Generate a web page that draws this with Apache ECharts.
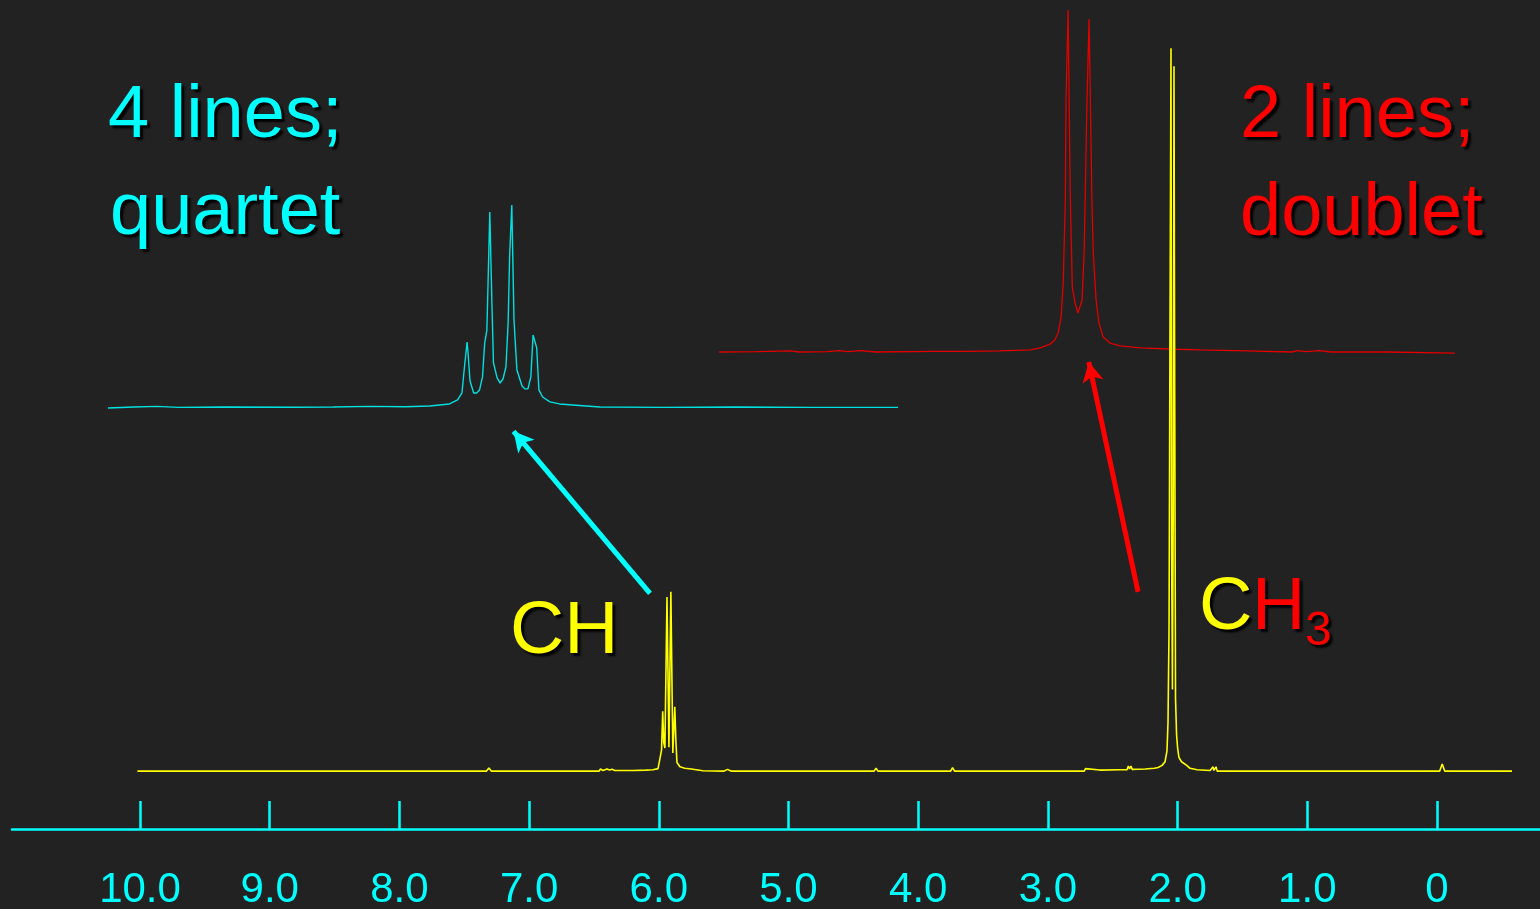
<!DOCTYPE html>
<html>
<head>
<meta charset="utf-8">
<script src="https://cdn.jsdelivr.net/npm/echarts@6/dist/echarts.min.js"></script>
<style>html,body{margin:0;padding:0;background:#222222;}#c{width:1540px;height:909px;}</style>
</head>
<body>
<div id="c"></div>
<script>
// ---- data (ppm, relative intensity) ----
var tickValues = [10, 9, 8, 7, 6, 5, 4, 3, 2, 1, 0];
var tickLabels = ['10.0', '9.0', '8.0', '7.0', '6.0', '5.0', '4.0', '3.0', '2.0', '1.0', '0'];

var mainSpectrum = [
  [10.02,0],[9.5,0],[9.0,0],[8.5,0],[8.0,0],[7.6,0],[7.33,0],[7.31,0.45],[7.29,0],[7.0,0],[6.6,0],
  [6.46,0],[6.45,0.3],[6.43,0.1],[6.40,0.3],[6.38,0.15],[6.36,0.25],[6.34,0.1],[6.2,0.1],[6.1,0.15],
  [6.045,0.2],[6.006,0.35],[5.991,0.6],[5.979,2.9],[5.970,8.3],[5.962,4.0],[5.953,3.2],[5.937,24.1],
  [5.922,3.3],[5.907,24.8],[5.892,2.5],[5.877,8.9],[5.868,4.0],[5.860,1.2],[5.837,0.6],[5.80,0.4],
  [5.75,0.3],[5.66,0.05],[5.50,0],[5.47,0.25],[5.44,0],[5.2,0],[4.8,0],[4.4,0],[4.34,0],[4.325,0.4],
  [4.31,0],[4.0,0],[3.75,0],[3.735,0.5],[3.72,0],[3.3,0],[3.0,0],[2.80,0],[2.72,0],[2.71,0.35],
  [2.70,0.1],[2.60,0.15],[2.45,0.2],[2.39,0.2],[2.38,0.7],[2.37,0.3],[2.36,0.7],[2.35,0.25],[2.25,0.3],
  [2.18,0.4],[2.15,0.5],[2.12,0.8],[2.097,1.3],[2.082,2.8],[2.074,6.8],[2.066,20],[2.059,60],[2.051,100],
  [2.046,30],[2.040,11.3],[2.034,35],[2.028,97.5],[2.022,50],[2.016,10],[2.008,5.0],[2.000,3.2],
  [1.990,1.9],[1.970,1.3],[1.958,1.1],[1.93,0.8],[1.904,0.4],[1.85,0.2],[1.75,0.1],[1.735,0],
  [1.727,0.6],[1.720,0.1],[1.712,0],[1.704,0.6],[1.695,0],[1.60,0],[1.2,0],[0.8,0],[0.4,0],[0.05,0],
  [-0.02,0],[-0.04,1.0],[-0.06,0],[-0.3,0],[-0.578,0]
];

var quartetInset = [
  [6.456,0],[6.42,0.5],[6.389,0.8],[6.36,0.3],[6.30,0.5],[6.20,0.4],[6.149,0.5],[6.10,0.8],[6.05,0.6],
  [6.017,1],[5.990,2],[5.979,4],[5.973,7.4],[5.970,18.7],[5.966,32.5],[5.965,28.6],[5.962,13.3],
  [5.957,7.4],[5.953,7.4],[5.949,8.9],[5.945,15.3],[5.942,32],[5.939,38.4],[5.935,96.6],[5.932,49.8],
  [5.930,22.2],[5.925,14.8],[5.921,12.3],[5.917,14.3],[5.913,20.2],[5.910,41.9],[5.908,74.4],[5.905,100],
  [5.902,43.3],[5.898,18.7],[5.891,10.8],[5.887,9.4],[5.883,9.4],[5.879,15.3],[5.876,36],[5.871,29.6],
  [5.868,8.9],[5.863,5.4],[5.853,3],[5.840,2],[5.822,1.5],[5.785,0.5],[5.70,0.3],[5.60,0.5],[5.50,0.3],
  [5.378,0.3]
];

var doubletInset = [
  [2.554,0],[2.50,0.1],[2.45,0.3],[2.44,0],[2.40,0.1],[2.381,0.4],[2.37,0.1],[2.352,0.4],[2.33,0],
  [2.25,0.2],[2.20,0.2],[2.152,0.3],[2.109,0.6],[2.095,1.2],[2.081,2.3],[2.074,3.5],[2.069,5.8],
  [2.065,10.2],[2.062,20.2],[2.059,44.4],[2.058,73.7],[2.055,100],[2.052,46.5],[2.049,19],[2.045,14.3],
  [2.041,11.4],[2.035,15.2],[2.032,29.8],[2.028,73.7],[2.025,97.4],[2.021,44.4],[2.019,28.9],[2.015,15.2],
  [2.011,8.5],[2.005,4.4],[1.995,2.6],[1.981,1.8],[1.952,1.2],[1.90,0.8],[1.866,0.6],[1.80,0.3],
  [1.735,0],[1.728,0.4],[1.715,0.1],[1.695,0.4],[1.68,0],[1.60,0],[1.502,-0.3]
];

// arrows: [tail, head] in main-spectrum coordinates (ppm, intensity)
var arrowCH = [[6.068, 24.6], [7.12, 47.0]];
var arrowCH3 = [[2.305, 24.8], [2.685, 56.6]];

var CYAN = '#00FFFF', RED = '#FF0000', YELLOW = '#FFFF00';
var FONT = '"Liberation Sans", Arial, sans-serif';

function label(text, x, y, size, color) {
  return {
    type: 'text', x: x, y: y, silent: true,
    style: {
      text: text, fill: color, font: size + 'px ' + FONT,
      textAlign: 'left', textVerticalAlign: 'top',
      textShadowColor: 'rgba(0,0,0,0.95)', textShadowBlur: 2,
      textShadowOffsetX: 3, textShadowOffsetY: 3
    }
  };
}

var chart = echarts.init(document.getElementById('c'), null, {renderer: 'canvas'});
chart.setOption({
  backgroundColor: '#222222',
  animation: false,
  grid: [
    {left: 12, right: 0, top: 4.8, bottom: 80, outerBoundsMode: 'none', containLabel: false},
    {left: 108, width: 790, top: 205, height: 207.06, outerBoundsMode: 'none', containLabel: false},
    {left: 719, width: 736, top: 10, height: 348.84, outerBoundsMode: 'none', containLabel: false}
  ],
  xAxis: [
    {
      type: 'value', gridIndex: 0, min: -0.794, max: 10.987, inverse: true, position: 'bottom',
      axisLine: {show: true, onZero: false, lineStyle: {color: CYAN, width: 2.5}},
      axisTick: {show: true, inside: true, length: 28, customValues: tickValues, lineStyle: {color: CYAN, width: 2.5}},
      axisLabel: {
        show: true, customValues: tickValues, margin: 40, color: CYAN, fontSize: 42, fontFamily: FONT,
        formatter: function (v) { var i = tickValues.indexOf(Math.round(v)); return i >= 0 ? tickLabels[i] : ''; }
      },
      splitLine: {show: false}
    },
    {type: 'value', gridIndex: 1, min: 5.378, max: 6.456, inverse: true, show: false},
    {type: 'value', gridIndex: 2, min: 1.502, max: 2.554, inverse: true, show: false}
  ],
  yAxis: [
    {type: 'value', gridIndex: 0, min: -8, max: 106, show: false},
    {type: 'value', gridIndex: 1, min: -2, max: 100, show: false},
    {type: 'value', gridIndex: 2, min: -2, max: 100, show: false}
  ],
  series: [
    {
      type: 'line', xAxisIndex: 1, yAxisIndex: 1, data: quartetInset, showSymbol: false, silent: true,
      lineStyle: {color: '#00E0E0', width: 1.4}
    },
    {
      type: 'line', xAxisIndex: 2, yAxisIndex: 2, data: doubletInset, showSymbol: false, silent: true,
      lineStyle: {color: '#E00000', width: 1.3}
    },
    {
      type: 'line', xAxisIndex: 0, yAxisIndex: 0, data: mainSpectrum, showSymbol: false, silent: true,
      lineStyle: {color: YELLOW, width: 1.6},
      markLine: {
        silent: true, symbol: ['none', 'arrow'], symbolSize: [16, 20],
        label: {show: false}, emphasis: {disabled: true},
        lineStyle: {type: 'solid', width: 5},
        data: [
          [{coord: arrowCH[0], lineStyle: {color: CYAN, width: 5, type: 'solid'}}, {coord: arrowCH[1]}],
          [{coord: arrowCH3[0], lineStyle: {color: RED, width: 5, type: 'solid'}}, {coord: arrowCH3[1]}]
        ]
      }
    }
  ],
  graphic: [
    label('4 lines;', 108, 80, 74, CYAN),
    label('quartet', 110, 177, 74, CYAN),
    label('2 lines;', 1240, 80, 74, RED),
    label('doublet', 1240, 178, 74, RED),
    label('CH', 510, 595, 75, YELLOW),
    label('C', 1199, 572, 74, YELLOW),
    label('H', 1252, 572, 74, RED),
    label('3', 1305, 608, 48, RED)
  ]
});
</script>
</body>
</html>
